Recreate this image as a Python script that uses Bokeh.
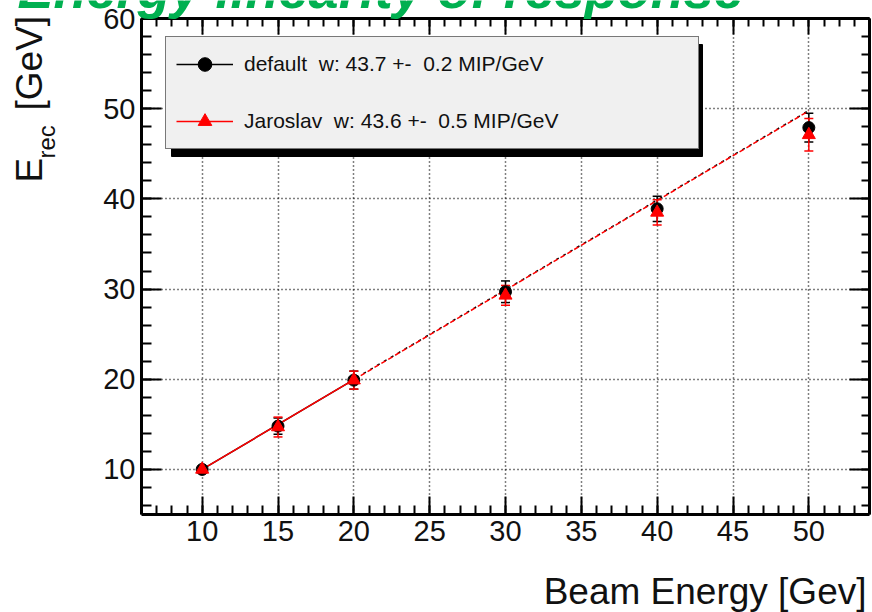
import math
from bokeh.plotting import figure
from bokeh.models import (ColumnDataSource, Whisker, TeeHead, Label, Legend, LegendItem,
                          LinearAxis, SingleIntervalTicker, BoxAnnotation, Range1d)
from bokeh.embed import file_html
from bokeh.resources import INLINE

# ---- data ----
beam_energy = [10, 15, 20, 30, 40, 50]
default_erec = [10.0, 14.8, 19.9, 29.7, 38.9, 47.9]
default_err = [0.3, 0.9, 1.0, 1.2, 1.4, 1.6]
jaroslav_erec = [10.0, 14.7, 19.9, 29.3, 38.5, 47.1]
jaroslav_err = [0.4, 1.1, 1.0, 1.1, 1.4, 1.8]

fit_solid_x = [10, 20]
fit_solid_y = [10.0, 19.95]
fit_dash_x = [20, 50]
fit_default_y = [20.0, 49.8]
fit_jaroslav_y = [19.95, 49.75]

legend_labels = ["default  w: 43.7 +-  0.2 MIP/GeV", "Jaroslav  w: 43.6 +-  0.5 MIP/GeV"]
title_text = "Energy linearity of response"
x_label = "Beam Energy [Gev]"

X_MIN, X_MAX = 6, 54
Y_MIN, Y_MAX = 5, 60

FONT = "Liberation Sans"
W, H = 872, 612
FL, FR, FT, FB = 141, 869, 18, 514   # plot box in canvas pixels

sx = (FR - FL) / (X_MAX - X_MIN)
sy = (FB - FT) / (Y_MAX - Y_MIN)
x_range = Range1d(X_MIN - FL / sx, X_MAX + (W - FR) / sx)
y_range = Range1d(Y_MIN - (H - FB) / sy, Y_MAX + FT / sy)

p = figure(width=W, height=H, output_backend="svg", toolbar_location=None,
           x_range=x_range, y_range=y_range, x_axis_type=None, y_axis_type=None,
           min_border=0, min_border_left=0, min_border_right=0,
           min_border_top=0, min_border_bottom=0)
p.title.visible = False
p.background_fill_color = "white"
p.border_fill_color = "white"
p.outline_line_color = None
p.xgrid.visible = False
p.ygrid.visible = False


def make_axis(loc, bounds, ticker, major_in, minor_in, labels=False, width=3, level="guide",
              dash="solid", line=True):
    ax = LinearAxis(ticker=ticker, fixed_location=loc, bounds=bounds, level=level)
    ax.axis_line_color = "black" if line else None
    ax.axis_line_width = width
    ax.major_tick_in = major_in
    ax.major_tick_out = 0
    ax.minor_tick_in = minor_in
    ax.minor_tick_out = 0
    ax.major_tick_line_width = 2 if dash == "solid" else 1.5
    ax.minor_tick_line_width = 2
    ax.major_tick_line_color = "black"
    ax.minor_tick_line_color = "black" if minor_in > 0 else None
    ax.major_tick_line_dash = dash
    if labels:
        ax.major_label_text_font = FONT
        ax.major_label_text_font_size = "29px"
        ax.major_label_text_color = "#111111"
        ax.major_label_standoff = 6
    else:
        ax.major_label_text_color = None
    return ax


# dotted grid drawn as long inward ticks
p.add_layout(make_axis(Y_MIN, (X_MIN, X_MAX), SingleIntervalTicker(interval=5, num_minor_ticks=0),
                       FB - FT, 0, level="underlay", dash="1 3", line=False), "below")
p.add_layout(make_axis(X_MIN, (Y_MIN, Y_MAX), SingleIntervalTicker(interval=10, num_minor_ticks=0),
                       FR - FL, 0, level="underlay", dash="1 3", line=False), "left")

# frame axes
p.add_layout(make_axis(Y_MIN, (X_MIN, X_MAX), SingleIntervalTicker(interval=5, num_minor_ticks=5),
                       18, 9, labels=True), "below")
p.add_layout(make_axis(X_MIN, (Y_MIN, Y_MAX), SingleIntervalTicker(interval=10, num_minor_ticks=5),
                       20, 10, labels=True), "left")
p.add_layout(make_axis(Y_MAX, (X_MIN, X_MAX), SingleIntervalTicker(interval=5, num_minor_ticks=5),
                       16, 8), "above")
p.add_layout(make_axis(X_MAX, (Y_MIN, Y_MAX), SingleIntervalTicker(interval=10, num_minor_ticks=5),
                       20, 8), "right")

# fit lines
p.line(fit_dash_x, fit_default_y, line_color="black", line_width=1.5, line_dash="3 5",
       line_dash_offset=5)
p.line(fit_dash_x, fit_jaroslav_y, line_color="red", line_width=1.5, line_dash="5 3")
ld = p.line(fit_solid_x, fit_solid_y, line_color="black", line_width=1.5)
lj = p.line(fit_solid_x, fit_solid_y, line_color="red", line_width=1.5)

src_d = ColumnDataSource(dict(x=beam_energy, y=default_erec,
                              lo=[v - e for v, e in zip(default_erec, default_err)],
                              hi=[v + e for v, e in zip(default_erec, default_err)]))
src_j = ColumnDataSource(dict(x=beam_energy, y=jaroslav_erec,
                              lo=[v - e for v, e in zip(jaroslav_erec, jaroslav_err)],
                              hi=[v + e for v, e in zip(jaroslav_erec, jaroslav_err)]))

wd = Whisker(base="x", lower="lo", upper="hi", source=src_d, line_color="black", line_width=1.5,
             upper_head=TeeHead(size=9, line_color="black", line_width=1.5),
             lower_head=TeeHead(size=9, line_color="black", line_width=1.5))
p.add_layout(wd)
rd = p.scatter("x", "y", source=src_d, marker="circle", size=12, fill_color="black",
               line_color="black")
wj = Whisker(base="x", lower="lo", upper="hi", source=src_j, line_color="red", line_width=1.5,
             upper_head=TeeHead(size=9, line_color="red", line_width=1.5),
             lower_head=TeeHead(size=9, line_color="red", line_width=1.5))
p.add_layout(wj)
rj = p.scatter("x", "y", source=src_j, marker="triangle", size=13, fill_color="red",
               line_color="red")

# legend with shadow
LG_L, LG_T, LG_W, LG_H = 165, 38, 532, 111
shadow = BoxAnnotation(left=LG_L + 6, right=LG_L + LG_W + 5, bottom=H - (LG_T + LG_H + 7),
                       top=H - (LG_T + 6),
                       left_units="screen", right_units="screen",
                       bottom_units="screen", top_units="screen",
                       fill_color="black", fill_alpha=1, line_color="black", line_alpha=1)
p.add_layout(shadow)

legend = Legend(items=[LegendItem(label=legend_labels[0], renderers=[ld, rd]),
                       LegendItem(label=legend_labels[1], renderers=[lj, rj])],
                location=(LG_L, H - (LG_T + LG_H)), orientation="vertical",
                border_line_color="black", border_line_width=1,
                background_fill_color="#f0f0f0", background_fill_alpha=1,
                label_text_font=FONT, label_text_font_size="21px", label_text_color="#111111",
                glyph_width=57, glyph_height=34, label_height=34, label_width=444,
                padding=10, spacing=23, label_standoff=11, margin=0)
p.add_layout(legend)

# title (partially cut at top, as in the original)
p.add_layout(Label(x=17, y=H - 5 + 17, x_units="screen", y_units="screen", text=title_text,
                   text_font=FONT, text_font_size="54px", text_font_style="bold italic",
                   text_color="#00b050", text_baseline="alphabetic", text_align="left"))

# y axis label: E_rec [GeV]
p.add_layout(Label(x=29, y=H - 182, x_units="screen", y_units="screen", text="E",
                   angle=math.pi / 2, text_font=FONT, text_font_size="37px",
                   text_color="#111111", text_baseline="alphabetic", text_align="left"))
p.add_layout(Label(x=46, y=H - 158, x_units="screen", y_units="screen", text="rec",
                   angle=math.pi / 2, text_font=FONT, text_font_size="24px",
                   text_color="#111111", text_baseline="alphabetic", text_align="left"))
p.add_layout(Label(x=29, y=H - 110, x_units="screen", y_units="screen", text="[GeV]",
                   angle=math.pi / 2, text_font=FONT, text_font_size="37px",
                   text_color="#111111", text_baseline="alphabetic", text_align="left"))

# x axis label
p.add_layout(Label(x=866, y=H - 604 + 13, x_units="screen", y_units="screen", text=x_label,
                   text_font=FONT, text_font_size="37px", text_color="#111111",
                   text_baseline="alphabetic", text_align="right"))

open("out.html", "w").write(file_html(p, INLINE))
